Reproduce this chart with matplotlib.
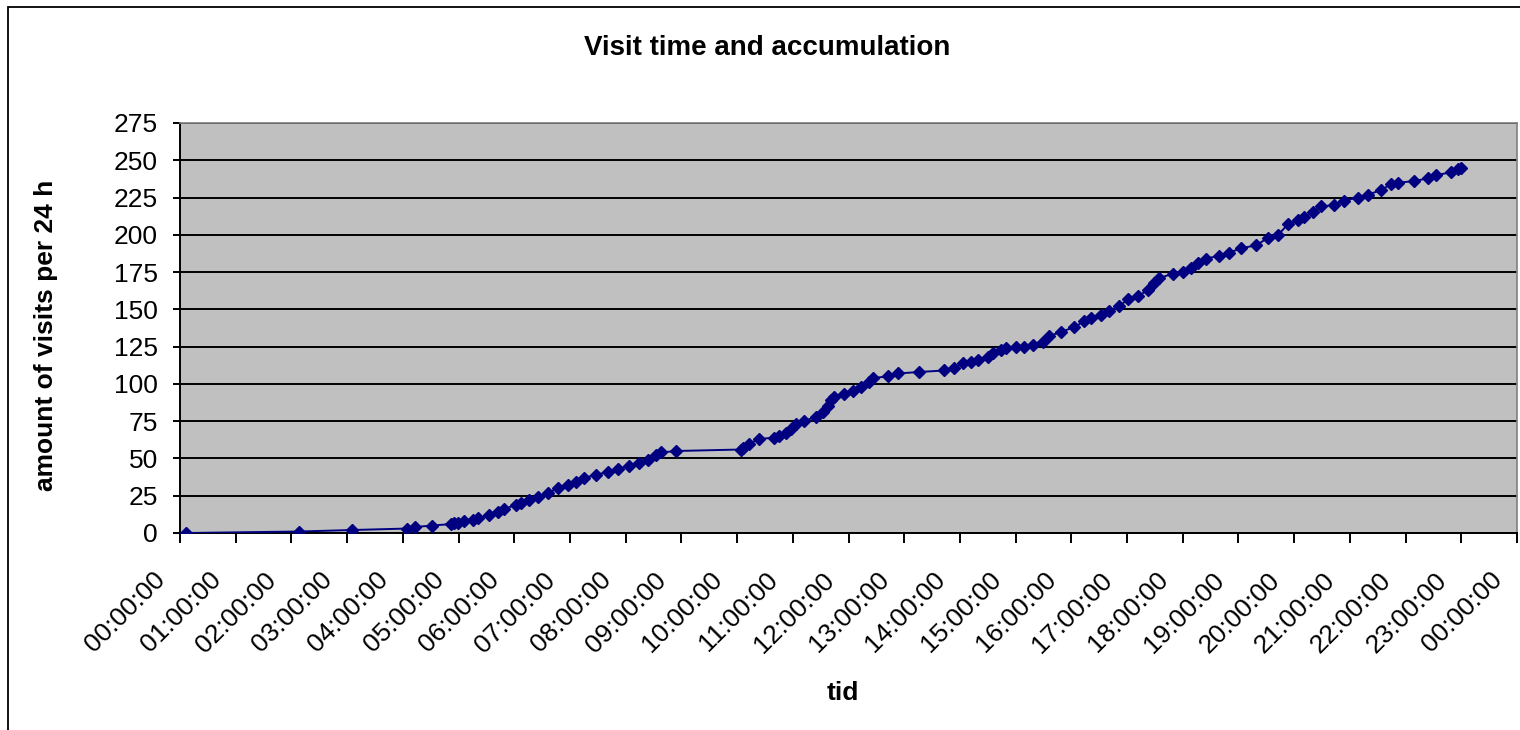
import matplotlib
matplotlib.use("Agg")
import matplotlib.pyplot as plt
from matplotlib.patches import Rectangle
from matplotlib.transforms import ScaledTranslation

plt.rcParams['font.family'] = ['Liberation Sans', 'DejaVu Sans']

# Data: time of day (hours) and accumulated visits
hours = [0.11, 2.14, 3.09, 4.08, 4.22, 4.52, 4.87, 4.92, 4.99, 5.10,
         5.26, 5.35, 5.55, 5.71, 5.82, 6.03, 6.12, 6.27, 6.43, 6.61,
         6.79, 6.97, 7.11, 7.25, 7.47, 7.68, 7.86, 8.06, 8.24, 8.40,
         8.55, 8.64, 8.90, 10.07, 10.11, 10.22, 10.40, 10.66, 10.75, 10.88,
         10.97, 11.06, 11.20, 11.42, 11.54, 11.63, 11.69, 11.74, 11.92, 12.08,
         12.23, 12.37, 12.44, 12.71, 12.89, 13.27, 13.72, 13.90, 14.06, 14.20,
         14.33, 14.51, 14.60, 14.74, 14.83, 15.01, 15.15, 15.31, 15.49, 15.60,
         15.82, 16.05, 16.23, 16.36, 16.54, 16.68, 16.86, 17.02, 17.20, 17.38,
         17.49, 17.58, 17.83, 18.01, 18.15, 18.28, 18.42, 18.65, 18.83, 19.05,
         19.32, 19.53, 19.71, 19.89, 20.07, 20.18, 20.34, 20.48, 20.72, 20.90,
         21.15, 21.33, 21.56, 21.74, 21.87, 22.15, 22.41, 22.55, 22.82, 22.94,
         23.00]
visits = [0, 1, 2, 3, 4, 5, 6, 7, 7, 8,
          9, 10, 12, 14, 16, 19, 20, 22, 24, 27,
          30, 32, 34, 37, 39, 41, 43, 45, 47, 49,
          52, 54, 55, 56, 57, 60, 63, 64, 65, 67,
          70, 73, 75, 78, 81, 85, 89, 91, 93, 95,
          98, 101, 104, 105, 107, 108, 109, 111, 114, 115,
          116, 118, 121, 123, 124, 125, 125, 126, 128, 132,
          135, 138, 142, 144, 146, 149, 152, 157, 159, 163,
          168, 171, 174, 175, 178, 181, 184, 186, 188, 191,
          193, 198, 200, 207, 210, 212, 215, 219, 220, 223,
          225, 227, 230, 234, 235, 236, 238, 240, 242, 244,
          245]

hour_ticks = list(range(25))
tick_labels = [f"{h % 24:02d}:00:00" for h in hour_ticks]
y_ticks = list(range(0, 276, 25))

fig = plt.figure(figsize=(15.2, 7.3), dpi=100)
ax = fig.add_axes([180 / 1520, 197 / 730, 1337 / 1520, 410 / 730])
ax.set_facecolor('#c0c0c0')

ax.plot(hours, visits, color='#000080', linewidth=1.4, marker='D',
        markersize=6, markerfacecolor='#000080', markeredgecolor='#000080',
        zorder=3)

ax.set_xlim(0, 24)
ax.set_ylim(0, 275)
ax.set_xticks(hour_ticks)
ax.set_xticklabels(tick_labels, rotation=45, ha='right', va='top', fontsize=19)
ax.set_yticks(y_ticks)
ax.set_yticklabels([str(v) for v in y_ticks], fontsize=19)

ax.yaxis.grid(True, color='black', linewidth=1.4)
ax.set_axisbelow(True)

for side in ['left', 'bottom']:
    ax.spines[side].set_color('black')
    ax.spines[side].set_linewidth(1.4)
for side in ['top', 'right']:
    ax.spines[side].set_color('#808080')
    ax.spines[side].set_linewidth(1.2)

ax.tick_params(axis='x', direction='out', length=7, width=1.4, pad=18)
ax.tick_params(axis='y', direction='out', length=5, width=1.4, pad=11)

# nudge the slanted time labels a little to the left
shift = ScaledTranslation(-10 / 100, 0, fig.dpi_scale_trans)
for tick in ax.xaxis.get_major_ticks():
    tick.label1.set_transform(tick.label1.get_transform() + shift)

# Titles and axis labels
fig.text(0.505, 0.934, "Visit time and accumulation", ha='center', va='center',
         fontsize=20, fontweight='bold')
fig.text(0.030, 0.54, "amount of visits per 24 h", ha='center', va='center',
         rotation=90, fontsize=19, fontweight='bold')
fig.text(0.5546, 0.0507, "tid", ha='center', va='center',
         fontsize=19, fontweight='bold')

# Chart border
fig.patches.append(Rectangle((7.5 / 1520, -0.05), 1.2, 1.05 - 7.5 / 730,
                             transform=fig.transFigure, fill=False,
                             edgecolor='black', linewidth=1.3))

fig.savefig("out.png", dpi=100)
plt.close(fig)
